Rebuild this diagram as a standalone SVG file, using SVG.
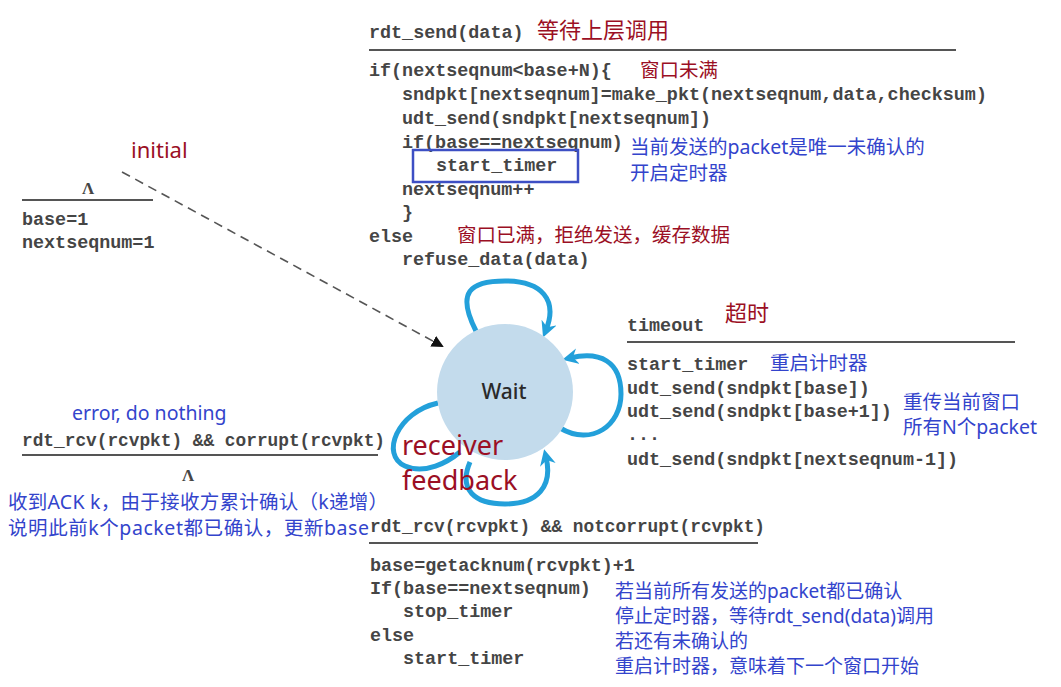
<svg xmlns="http://www.w3.org/2000/svg" width="1061" height="687" viewBox="0 0 1061 687">
<style>
.m{font-family:"Liberation Mono","DejaVu Sans Mono",monospace;font-size:18.4px;font-weight:bold;fill:#454545}
.r{font-family:"Noto Sans","Noto Sans CJK SC",sans-serif;font-size:19.5px;fill:#9b0f24}
.b{font-family:"Noto Sans","Noto Sans CJK SC",sans-serif;font-size:19.5px;fill:#3344cc}
.lam{font-family:"Liberation Serif","DejaVu Serif",serif;font-size:17px;font-weight:bold;fill:#454545}
.rule{stroke:#555;stroke-width:2}
.loop{fill:none;stroke:#23a0da;stroke-width:5;marker-end:url(#ah)}
</style>
<defs>
<marker id="ah" markerUnits="userSpaceOnUse" markerWidth="16" markerHeight="16" refX="8" refY="8" orient="auto" viewBox="0 0 16 16">
<path d="M0,0 L16,8 L0,16 L5,8 z" fill="#23a0da"/>
</marker>
<marker id="dh" markerUnits="userSpaceOnUse" markerWidth="12" markerHeight="12" refX="10" refY="6" orient="auto" viewBox="0 0 12 12">
<path d="M0,0 L12,6 L0,12 z" fill="#111"/>
</marker>
</defs>
<rect width="1061" height="687" fill="#fff"/>

<g id="connectors">
<path d="M122,172 L442,346" fill="none" stroke="#555" stroke-width="1.6" stroke-dasharray="9,6" marker-end="url(#dh)"/>
<path class="loop" d="M476,331 C456,292 470,281 505,281 C542,281 558,300 546,330"/>
<path class="loop" d="M560,428 C592,447 621,425 621,394 C621,361 600,351 570,358"/>
<path class="loop" d="M470,462 C458,490 475,504 505,504 C538,504 553,486 546,457"/>
<path d="M438,403 C397,412 380,455 405,466 C425,475 448,462 460,452" fill="none" stroke="#23a0da" stroke-width="5"/>
</g>

<g id="wait">
<circle cx="505" cy="392" r="68" fill="#c3dbec"/>
<text x="504" y="399" text-anchor="middle" font-family="Noto Sans,sans-serif" font-size="21" font-weight="500" fill="#2a2a2a">Wait</text>
</g>

<g id="rdt-send">
<text class="m" x="369" y="38">rdt_send(data)</text>
<text x="537" y="38" class="r" style="font-size:22px">等待上层调用</text>
<line class="rule" x1="369" y1="50" x2="956" y2="50"/>
<text class="m" x="369" y="76">if(nextseqnum&lt;base+N){</text>
<text class="r" x="640" y="77">窗口未满</text>
<text class="m" x="402" y="100">sndpkt[nextseqnum]=make_pkt(nextseqnum,data,checksum)</text>
<text class="m" x="402" y="124">udt_send(sndpkt[nextseqnum])</text>
<text class="m" x="402" y="148">if(base==nextseqnum)</text>
<rect x="413" y="150" width="165" height="32" fill="none" stroke="#3d4fc4" stroke-width="2.5"/>
<text class="m" x="436" y="171">start_timer</text>
<text class="b" x="630" y="154">当前发送的packet是唯一未确认的</text>
<text class="b" x="630" y="180">开启定时器</text>
<text class="m" x="402" y="195">nextseqnum++</text>
<text class="m" x="402" y="218">}</text>
<text class="m" x="369" y="242">else</text>
<text class="r" x="457" y="242">窗口已满，拒绝发送，缓存数据</text>
<text class="m" x="402" y="265">refuse_data(data)</text>
</g>

<g id="initial">
<text x="131" y="158" font-family="Noto Sans,sans-serif" font-size="22" fill="#9b0f24">initial</text>
<text class="lam" x="88" y="194" text-anchor="middle">Λ</text>
<line class="rule" x1="22" y1="200" x2="153" y2="200"/>
<text class="m" x="22" y="225">base=1</text>
<text class="m" x="22" y="248">nextseqnum=1</text>
</g>

<g id="timeout">
<text class="m" x="627" y="331">timeout</text>
<text class="r" x="725" y="321" style="font-size:22px">超时</text>
<line class="rule" x1="627" y1="342" x2="1015" y2="342"/>
<text class="m" x="627" y="370">start_timer</text>
<text class="b" x="770" y="370">重启计时器</text>
<text class="m" x="627" y="394">udt_send(sndpkt[base])</text>
<text class="m" x="627" y="417">udt_send(sndpkt[base+1])</text>
<text class="b" x="903" y="409">重传当前窗口</text>
<text class="b" x="903" y="434">所有N个packet</text>
<text class="m" x="627" y="440">...</text>
<text class="m" x="627" y="465">udt_send(sndpkt[nextseqnum-1])</text>
</g>

<g id="corrupt">
<text class="b" x="72" y="420">error, do nothing</text>
<text class="m" x="22" y="446" textLength="363" lengthAdjust="spacingAndGlyphs">rdt_rcv(rcvpkt) &amp;&amp; corrupt(rcvpkt)</text>
<line class="rule" x1="22" y1="455" x2="378" y2="455"/>
<text class="lam" x="188" y="481" text-anchor="middle">Λ</text>
<text class="b" x="8" y="509" textLength="380" lengthAdjust="spacing">收到ACK k，由于接收方累计确认（k递增）</text>
<text class="b" x="8" y="535" textLength="361" lengthAdjust="spacing">说明此前k个packet都已确认，更新base</text>
</g>

<g id="feedback-label">
<text x="402" y="455" font-family="Noto Sans,sans-serif" font-size="27" fill="#9b0f24">receiver</text>
<text x="402" y="490" font-family="Noto Sans,sans-serif" font-size="27" fill="#9b0f24">feedback</text>
</g>

<g id="notcorrupt">
<text class="m" x="370" y="532" textLength="395" lengthAdjust="spacingAndGlyphs">rdt_rcv(rcvpkt) &amp;&amp; notcorrupt(rcvpkt)</text>
<line class="rule" x1="369" y1="543" x2="758" y2="543"/>
<text class="m" x="370" y="571">base=getacknum(rcvpkt)+1</text>
<text class="m" x="370" y="594">If(base==nextseqnum)</text>
<text class="m" x="403" y="617">stop_timer</text>
<text class="m" x="370" y="641">else</text>
<text class="m" x="403" y="664">start_timer</text>
<text class="b" x="615" y="598" style="font-size:19px">若当前所有发送的packet都已确认</text>
<text class="b" x="615" y="623" style="font-size:19px">停止定时器，等待rdt_send(data)调用</text>
<text class="b" x="615" y="648" style="font-size:19px">若还有未确认的</text>
<text class="b" x="615" y="673" style="font-size:19px">重启计时器，意味着下一个窗口开始</text>
</g>
</svg>
